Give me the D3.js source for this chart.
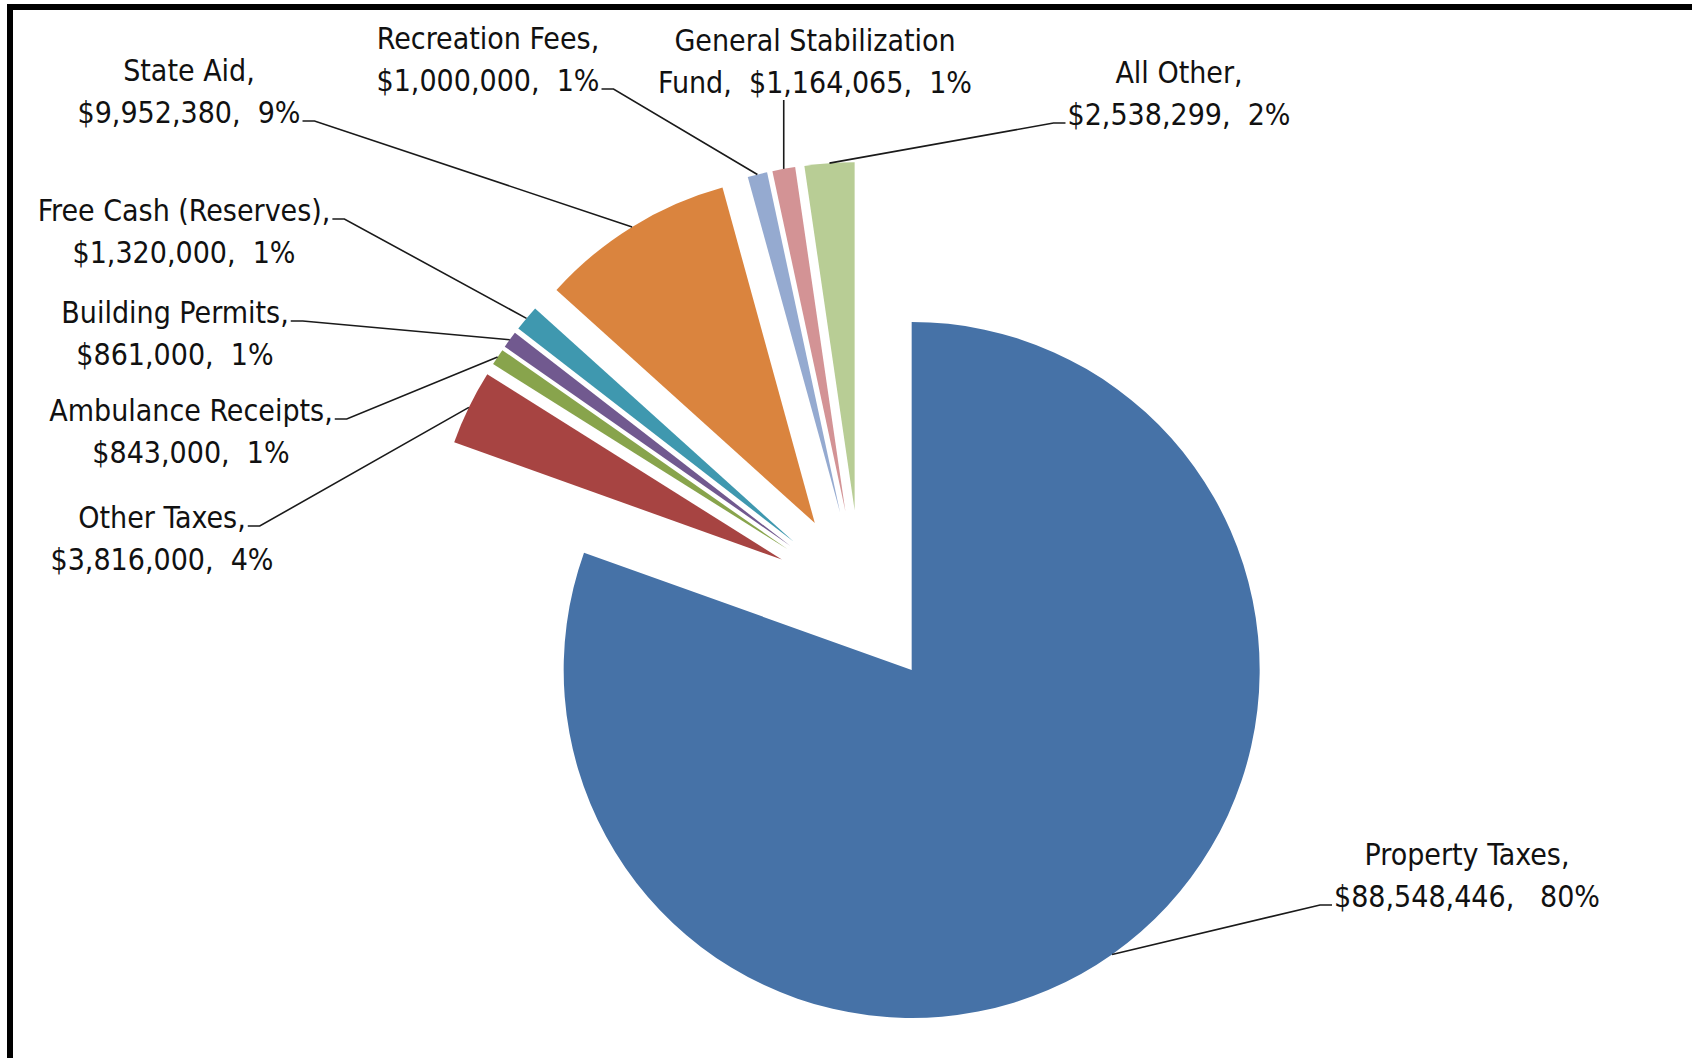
<!DOCTYPE html>
<html>
<head>
<meta charset="utf-8">
<script src="https://cdn.jsdelivr.net/npm/d3@7"></script>
<style>
  body { margin: 0; background: #fff; }
  svg { display: block; }
  .lbl { font-family: "Liberation Sans Narrow", "Arial Narrow", "DejaVu Sans Condensed", sans-serif; font-size: 30px; fill: #111; white-space: pre; }
</style>
</head>
<body>
<svg id="chart"></svg>
<script>
var categories = ["Property Taxes", "Other Taxes", "Ambulance Receipts", "Building Permits",
    "Free Cash (Reserves)", "State Aid", "Recreation Fees", "General Stabilization Fund", "All Other"];
var amounts = [88548446, 3816000, 843000, 861000, 1320000, 9952380, 1000000, 1164065, 2538299];
var percents = ["80%", "4%", "1%", "1%", "1%", "9%", "1%", "1%", "2%"];
var colors = ["#4672A7", "#A74442", "#88A44C", "#71598F", "#3F98AF", "#DA843E", "#95AAD0", "#D39395", "#B8CD95"];

var width = 1692, height = 1058;
var cx = 861, cy = 598, radius = 348, explode = 88;

// label placement (centre x, first baseline, where the leader meets the label)
var labelLayout = [
    { x: 1467, y: 865, attach: "l2-left", gap: "   " },
    { x: 162, y: 528, attach: "l1-right" },
    { x: 191, y: 421, attach: "l1-right" },
    { x: 175, y: 323, attach: "l1-right" },
    { x: 184, y: 221, attach: "l1-right" },
    { x: 189, y: 81, attach: "l2-right" },
    { x: 488, y: 49, attach: "l2-right" },
    { x: 815, y: 51, attach: "bottom", wrapAfter: "General Stabilization" },
    { x: 1179, y: 83, attach: "l2-left" }
];
var lineGap = 42;

var svg = d3.select("#chart").attr("width", width).attr("height", height);

// frame
svg.append("rect")
    .attr("x", 10).attr("y", 7)
    .attr("width", width + 20).attr("height", height + 20)
    .attr("fill", "none")
    .attr("stroke", "#000")
    .attr("stroke-width", 6);

var money = d3.format("$,");

var pie = d3.pie().sort(null).value(function (d) { return d; });
var arcs = pie(amounts);
var arc = d3.arc().innerRadius(0).outerRadius(radius);

function dir(a) { return [Math.sin(a), -Math.cos(a)]; }

var g = svg.append("g").attr("transform", "translate(" + cx + "," + cy + ")");

g.selectAll("path.slice")
    .data(arcs)
    .enter()
    .append("path")
    .attr("class", "slice")
    .attr("d", arc)
    .attr("fill", function (d, i) { return colors[i]; })
    .attr("transform", function (d) {
        var m = dir((d.startAngle + d.endAngle) / 2);
        return "translate(" + (m[0] * explode) + "," + (m[1] * explode) + ")";
    });

// labels
var labels = svg.append("g");
arcs.forEach(function (d, i) {
    var lay = labelLayout[i];
    var gap = lay.gap || "  ";
    var l1, l2;
    if (lay.wrapAfter) {
        var full = categories[i] + ",  " + money(amounts[i]) + "," + gap + percents[i];
        l1 = lay.wrapAfter;
        l2 = full.slice(lay.wrapAfter.length).trim();
    } else {
        l1 = categories[i] + ",";
        l2 = money(amounts[i]) + "," + gap + percents[i];
    }
    var t1 = labels.append("text").attr("class", "lbl")
        .attr("x", lay.x).attr("y", lay.y).attr("text-anchor", "middle").text(l1);
    var t2 = labels.append("text").attr("class", "lbl")
        .attr("x", lay.x).attr("y", lay.y + lineGap).attr("text-anchor", "middle").text(l2);

    var m = dir((d.startAngle + d.endAngle) / 2);
    var px = cx + m[0] * (radius + explode), py = cy + m[1] * (radius + explode);
    var pts;
    if (lay.attach === "bottom") {
        var b = t2.node().getBBox();
        pts = [[px, b.y + b.height], [px, py]];
    } else {
        var tt = lay.attach.indexOf("l1") === 0 ? t1 : t2;
        var bb = tt.node().getBBox();
        var ty = (lay.attach.indexOf("l1") === 0 ? lay.y : lay.y + lineGap) - 2;
        var sx = lay.attach.indexOf("right") > 0 ? bb.x + bb.width + 2 : bb.x - 2;
        var ex = lay.attach.indexOf("right") > 0 ? sx + 12 : sx - 12;
        pts = [[sx, ty], [ex, ty], [px, py]];
    }
    labels.append("path")
        .attr("d", d3.line()(pts))
        .attr("fill", "none")
        .attr("stroke", "#1a1a1a")
        .attr("stroke-width", 1.6);
});
</script>
</body>
</html>
